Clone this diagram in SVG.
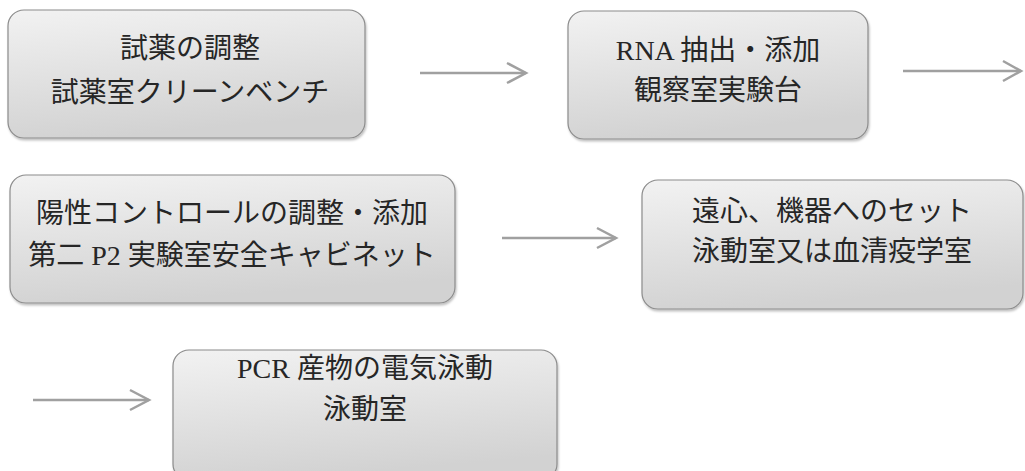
<svg xmlns="http://www.w3.org/2000/svg" width="1025" height="471" viewBox="0 0 1025 471">
<style>
.box{fill:url(#g);stroke:#8c8c8c;stroke-width:1.2}
.t{font-family:"Liberation Serif","Noto Sans CJK JP",serif;font-size:28px;fill:#262626;text-anchor:middle}
.arr{fill:none;stroke:#a0a0a0;stroke-width:2.5}
.head{fill:none;stroke:#a0a0a0;stroke-width:2.5;stroke-linejoin:miter}
</style>
<defs>
<linearGradient id="g" x1="0" y1="0" x2="0.25" y2="1">
<stop offset="0" stop-color="#f2f2f2"/>
<stop offset="1" stop-color="#d2d2d2"/>
</linearGradient>
<filter id="sh" x="-5%" y="-5%" width="110%" height="115%">
<feDropShadow dx="1" dy="2" stdDeviation="1.2" flood-color="#000" flood-opacity="0.25"/>
</filter>
</defs>
<rect width="1025" height="471" fill="#fff"/>
<g id="connectors">
<path class="arr" d="M420 73 H526"/><path class="head" d="M507 63 L526 73 L507 83"/>
<path class="arr" d="M903 71 H1021"/><path class="head" d="M1003 61 L1021 71 L1003 81"/>
<path class="arr" d="M502 238 H616"/><path class="head" d="M597 228 L616 238 L597 248"/>
<path class="arr" d="M33 400 H149"/><path class="head" d="M130 390 L149 400 L130 410"/>
</g>
<g id="n1"><rect class="box" filter="url(#sh)" x="8" y="10" width="357" height="128" rx="16"/>
<text class="t" x="190" y="58">試薬の調整</text><text class="t" x="190" y="102">試薬室クリーンベンチ</text></g>
<g id="n2"><rect class="box" filter="url(#sh)" x="568" y="11" width="300" height="128" rx="16"/>
<text class="t" x="718" y="60">RNA 抽出・添加</text><text class="t" x="718" y="100">観察室実験台</text></g>
<g id="n3"><rect class="box" filter="url(#sh)" x="10" y="175" width="445" height="128" rx="16"/>
<text class="t" x="232" y="223">陽性コントロールの調整・添加</text><text class="t" x="232" y="265">第二 P2 実験室安全キャビネット</text></g>
<g id="n4"><rect class="box" filter="url(#sh)" x="642" y="180" width="381" height="129" rx="16"/>
<text class="t" x="832" y="221">遠心、機器へのセット</text><text class="t" x="832" y="261">泳動室又は血清疫学室</text></g>
<g id="n5"><rect class="box" filter="url(#sh)" x="173" y="350" width="384" height="130" rx="16"/>
<text class="t" x="365" y="378">PCR 産物の電気泳動</text><text class="t" x="365" y="419">泳動室</text></g>
</svg>
